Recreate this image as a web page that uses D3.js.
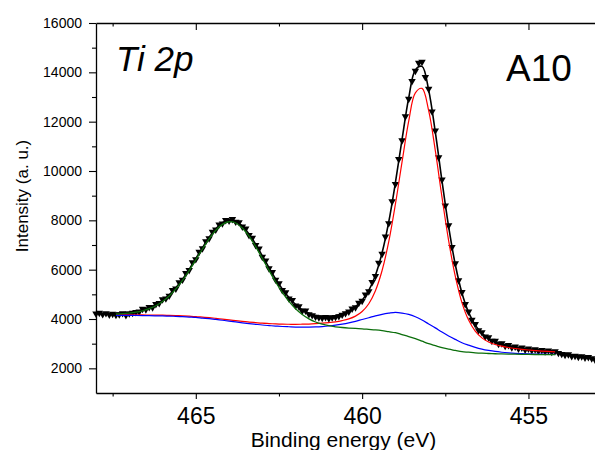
<!DOCTYPE html>
<html>
<head>
<meta charset="utf-8">
<script src="https://cdn.jsdelivr.net/npm/d3@7"></script>
<style>
  body { margin: 0; background: #fff; }
  svg { display: block; font-family: "Liberation Sans", Arial, sans-serif; }
</style>
</head>
<body>
<div id="chart"></div>
<script>
// Ti 2p spectrum, sample A10

// measured spectrum: 468.0 eV down to 453.0 eV, 0.1 eV steps
var dataStart = 468.0;
var dataStep = 0.1;
var counts = [
  4215, 4245, 4190, 4230, 4175, 4205, 4160, 4185, 4230, 4155,
  4220, 4250, 4280, 4300, 4410, 4385, 4480, 4470, 4600, 4640,
  4790, 4830, 4940, 5170, 5230, 5480, 5590, 5860, 5980, 6290,
  6420, 6720, 6860, 7150, 7270, 7530, 7620, 7830, 7870, 8010,
  7990, 8050, 7940, 7920, 7740, 7660, 7400, 7290, 6990, 6850,
  6520, 6370, 6050, 5900, 5590, 5440, 5170, 5080, 4830, 4760,
  4540, 4510, 4330, 4340, 4190, 4150, 4090, 4060, 4040, 4070,
  4020, 4060, 4080, 4110, 4170, 4230, 4300, 4420, 4470, 4650,
  4730, 4990, 5120, 5490, 5740, 6270, 6640, 7340, 7880, 8770,
  9470, 10480, 11240, 12210, 12920, 13640, 14060, 14380, 14420, 13800,
  13330, 12410, 11640, 10550, 9650, 8600, 7790, 6910, 6250, 5560,
  5090, 4600, 4300, 3960, 3790, 3540, 3460, 3280, 3250, 3110,
  3110, 2990, 3010, 2910, 2940, 2850, 2880, 2800, 2840, 2760,
  2800, 2730, 2770, 2700, 2740, 2680, 2720, 2660, 2690, 2620,
  2580, 2540, 2560, 2490, 2500, 2460, 2480, 2430, 2450, 2400,
  2350
];

// fitted curves: 467.4 eV down to 454.2 eV, 0.2 eV steps
var fitStart = 467.4;
var fitStep = 0.2;
var envelope = [
  4232, 4248, 4272, 4309, 4368, 4453, 4577, 4750,
  4975, 5264, 5612, 6013, 6453, 6893, 7311, 7661, 7906, 8015,
  7968, 7770, 7446, 7031, 6562, 6085, 5627, 5215, 4869, 4587,
  4380, 4233, 4143, 4102, 4101, 4135, 4211, 4324, 4497, 4759,
  5158, 5777, 6685, 7936, 9525, 11287, 12961, 14099, 14241, 13279,
  11575, 9600, 7743, 6209, 5052, 4266, 3750, 3423, 3217, 3077,
  2983, 2912, 2857, 2816, 2780, 2753, 2729, 2710, 2692
];
var redFit = [
  4171, 4170, 4169, 4166, 4165, 4161, 4158, 4154,
  4146, 4138, 4127, 4114, 4100, 4077, 4054, 4027, 3997, 3967,
  3935, 3904, 3877, 3853, 3830, 3815, 3801, 3791, 3787, 3784,
  3789, 3796, 3810, 3829, 3854, 3886, 3936, 4005, 4117, 4305,
  4619, 5148, 5966, 7135, 8655, 10368, 12022, 13168, 13348, 12449,
  10825, 8940, 7177, 5736, 4665, 3956, 3506, 3234, 3071, 2966,
  2897, 2844, 2804, 2772, 2744, 2721, 2701, 2684, 2670
];
var blueFit = [
  4150, 4148, 4146, 4143, 4140, 4135, 4130, 4126,
  4116, 4107, 4094, 4078, 4063, 4037, 4012, 3982, 3949, 3916,
  3880, 3845, 3813, 3784, 3756, 3734, 3714, 3697, 3685, 3674,
  3671, 3672, 3679, 3694, 3716, 3748, 3791, 3843, 3906, 3979,
  4051, 4128, 4191, 4236, 4267, 4241, 4187, 4093, 3958, 3799,
  3640, 3470, 3313, 3173, 3040, 2940, 2852, 2782, 2728, 2684,
  2653, 2629, 2610, 2597, 2586, 2579, 2572, 2568, 2563
];
var greenFit = [
  4203, 4218, 4241, 4276, 4333, 4417, 4539, 4710,
  4933, 5219, 5565, 5963, 6400, 6837, 7251, 7598, 7838, 7942,
  7891, 7687, 7356, 6934, 6456, 5970, 5500, 5075, 4713, 4413,
  4182, 4005, 3878, 3789, 3727, 3685, 3656, 3634, 3616, 3601,
  3580, 3559, 3528, 3485, 3443, 3366, 3288, 3200, 3101, 3001,
  2920, 2840, 2775, 2726, 2677, 2654, 2630, 2613, 2602, 2591,
  2585, 2579, 2573, 2569, 2564, 2561, 2558, 2556, 2553
];

var xMajor = [455, 460, 465];
var xMinor = [457.5, 462.5, 467.5];
var yMajor = [2000, 4000, 6000, 8000, 10000, 12000, 14000, 16000];
var yMinor = [3000, 5000, 7000, 9000, 11000, 13000, 15000];

var width = 595;
var height = 450;
//plot box edges (note: "top" is taken by window.top)
var plotLeft = 96, plotRight = 595, plotTop = 23, plotBottom = 393;

var svg = d3.select('#chart')
  .append('svg')
  .attr('width', width)
  .attr('height', height);

var x = d3.scaleLinear().domain([468, 453]).range([plotLeft, plotRight]);
var y = d3.scaleLinear().domain([1000, 16000]).range([plotBottom, plotTop]);

//turn the value lists into points
function points(values, start, step) {
  return values.map(function(v, i) {
    return { e: +(start - i * step).toFixed(2), v: v };
  });
}

var data = points(counts, dataStart, dataStep);

//measured points as filled down triangles
var tri = d3.symbol().type(d3.symbolTriangle).size(24);
svg.append('g')
  .selectAll('path')
  .data(data)
  .enter()
  .append('path')
  .attr('d', tri)
  .attr('fill', '#000')
  .attr('transform', function(d) {
    return 'translate(' + x(d.e) + ',' + y(d.v) + ') rotate(180)';
  });

var line = d3.line()
  .x(function(d) { return x(d.e); })
  .y(function(d) { return y(d.v); })
  .curve(d3.curveCatmullRom.alpha(0.5));

var fits = [
  { values: envelope, color: '#000000', width: 1.6 },
  { values: redFit, color: '#ff0000', width: 1.2 },
  { values: blueFit, color: '#0000ff', width: 1.2 },
  { values: greenFit, color: '#0b6e0b', width: 1.3 }
];

fits.forEach(function(f) {
  svg.append('path')
    .datum(points(f.values, fitStart, fitStep))
    .attr('d', line)
    .attr('fill', 'none')
    .attr('stroke', f.color)
    .attr('stroke-width', f.width);
});

//axes
function styleAxis(g) {
  g.attr('font-family', null).attr('font-size', null);
  g.select('.domain').attr('stroke', '#000').attr('stroke-width', 1.3);
  g.selectAll('.tick line').attr('stroke', '#000').attr('stroke-width', 1.1);
  g.selectAll('.tick text').attr('fill', '#000');
}

var xAxis = svg.append('g')
  .attr('transform', 'translate(0,' + plotBottom + ')')
  .call(d3.axisBottom(x).tickValues(xMajor).tickSize(6).tickSizeOuter(0).tickPadding(9).tickFormat(d3.format('d')))
  .call(styleAxis);
xAxis.selectAll('.tick text').style('font-size', '23px');

svg.append('g')
  .attr('transform', 'translate(0,' + plotBottom + ')')
  .call(d3.axisBottom(x).tickValues(xMinor).tickSize(3.5).tickFormat(''))
  .call(styleAxis)
  .select('.domain').remove();

svg.append('g')
  .attr('transform', 'translate(0,' + plotTop + ')')
  .call(d3.axisTop(x).tickValues(xMajor).tickSizeInner(-7).tickSizeOuter(0).tickFormat(''))
  .call(styleAxis);

svg.append('g')
  .attr('transform', 'translate(0,' + plotTop + ')')
  .call(d3.axisTop(x).tickValues(xMinor).tickSizeInner(-3.5).tickSizeOuter(0).tickFormat(''))
  .call(styleAxis)
  .select('.domain').remove();

var yAxis = svg.append('g')
  .attr('transform', 'translate(' + plotLeft + ',0)')
  .call(d3.axisLeft(y).tickValues(yMajor).tickSize(7).tickSizeOuter(0).tickPadding(7).tickFormat(d3.format('d')))
  .call(styleAxis);
yAxis.selectAll('.tick text').style('font-size', '14px');

svg.append('g')
  .attr('transform', 'translate(' + plotLeft + ',0)')
  .call(d3.axisLeft(y).tickValues(yMinor).tickSize(4).tickFormat(''))
  .call(styleAxis)
  .select('.domain').remove();

//axis titles
svg.append('text')
  .attr('x', (plotLeft + plotRight) / 2 - 2)
  .attr('y', 447)
  .attr('text-anchor', 'middle')
  .style('font-size', '21px')
  .text('Binding energy (eV)');

svg.append('text')
  .attr('transform', 'translate(28,196) rotate(-90)')
  .attr('text-anchor', 'middle')
  .style('font-size', '17px')
  .text('Intensity (a. u.)');

//labels inside the plot
svg.append('text')
  .attr('x', 116)
  .attr('y', 71)
  .style('font-size', '35px')
  .style('font-style', 'italic')
  .text('Ti 2p');

svg.append('text')
  .attr('x', 506)
  .attr('y', 81)
  .style('font-size', '37px')
  .text('A10');
</script>
</body>
</html>
